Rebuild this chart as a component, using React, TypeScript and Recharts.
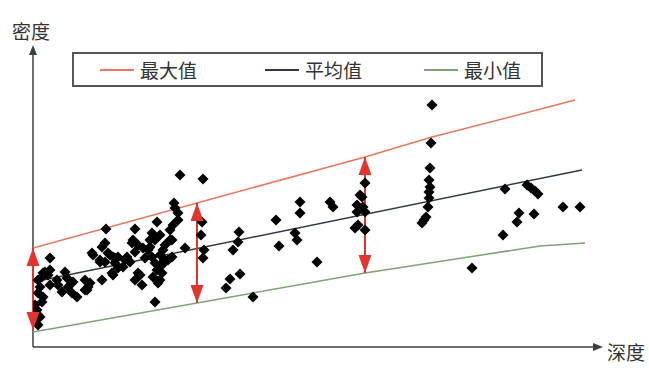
import React from 'react';
import { ComposedChart, Line, Scatter, XAxis, YAxis, ReferenceLine, ReferenceDot } from 'recharts';

// measured points: depth (x), density (y), arbitrary units
const samples: { x: number; y: number }[] = [
  { x: 5, y: 22 }, { x: 7, y: 30 }, { x: 4, y: 37 }, { x: 9, y: 45 }, { x: 10, y: 50 },
  { x: 5, y: 54 }, { x: 7, y: 60 }, { x: 17, y: 62 }, { x: 15, y: 72 }, { x: 17, y: 77 },
  { x: 10, y: 74 }, { x: 17, y: 89 }, { x: 12, y: 75 }, { x: 9, y: 70 }, { x: 5, y: 67 },
  { x: 5, y: 32 }, { x: 3, y: 27 }, { x: 2, y: 42 }, { x: 24, y: 67 }, { x: 25, y: 62 },
  { x: 29, y: 55 }, { x: 35, y: 60 }, { x: 40, y: 65 }, { x: 39, y: 54 }, { x: 44, y: 50 },
  { x: 32, y: 75 }, { x: 34, y: 69 }, { x: 52, y: 67 }, { x: 55, y: 60 }, { x: 52, y: 57 },
  { x: 59, y: 94 }, { x: 57, y: 64 }, { x: 60, y: 92 }, { x: 69, y: 67 }, { x: 72, y: 85 },
  { x: 75, y: 94 }, { x: 69, y: 100 }, { x: 72, y: 104 }, { x: 73, y: 118 }, { x: 67, y: 87 },
  { x: 77, y: 92 }, { x: 82, y: 89 }, { x: 80, y: 72 }, { x: 79, y: 74 }, { x: 82, y: 84 },
  { x: 85, y: 90 }, { x: 90, y: 80 }, { x: 95, y: 87 }, { x: 102, y: 95 }, { x: 99, y: 104 },
  { x: 105, y: 74 }, { x: 102, y: 67 }, { x: 94, y: 90 }, { x: 97, y: 85 }, { x: 100, y: 107 },
  { x: 105, y: 102 }, { x: 110, y: 99 }, { x: 102, y: 118 }, { x: 107, y: 72 }, { x: 109, y: 62 },
  { x: 117, y: 100 }, { x: 119, y: 90 }, { x: 122, y: 84 }, { x: 124, y: 77 }, { x: 120, y: 70 },
  { x: 129, y: 74 }, { x: 125, y: 64 }, { x: 127, y: 92 }, { x: 132, y: 87 }, { x: 119, y: 114 },
  { x: 122, y: 107 }, { x: 124, y: 125 }, { x: 137, y: 117 }, { x: 137, y: 107 }, { x: 122, y: 45 },
  { x: 141, y: 144 }, { x: 142, y: 139 }, { x: 145, y: 134 }, { x: 145, y: 127 }, { x: 140, y: 122 },
  { x: 127, y: 112 }, { x: 132, y: 102 }, { x: 147, y: 172 }, { x: 170, y: 168 }, { x: 152, y: 99 },
  { x: 115, y: 97 }, { x: 127, y: 82 }, { x: 130, y: 97 }, { x: 117, y: 107 }, { x: 112, y: 89 },
  { x: 139, y: 107 }, { x: 139, y: 90 }, { x: 135, y: 87 }, { x: 129, y: 82 }, { x: 127, y: 67 },
  { x: 80, y: 90 }, { x: 92, y: 87 }, { x: 85, y: 79 }, { x: 67, y: 85 }, { x: 54, y: 57 },
  { x: 169, y: 125 }, { x: 168, y: 112 }, { x: 171, y: 97 }, { x: 170, y: 89 },
  { x: 206, y: 115 }, { x: 205, y: 105 }, { x: 200, y: 97 }, { x: 207, y: 73 }, { x: 197, y: 68 },
  { x: 193, y: 59 }, { x: 220, y: 50 }, { x: 243, y: 127 }, { x: 246, y: 101 }, { x: 267, y: 145 },
  { x: 267, y: 134 }, { x: 262, y: 114 }, { x: 264, y: 107 }, { x: 297, y: 145 }, { x: 300, y: 140 },
  { x: 284, y: 85 }, { x: 324, y: 142 }, { x: 329, y: 150 }, { x: 324, y: 135 }, { x: 325, y: 122 },
  { x: 332, y: 117 }, { x: 322, y: 119 }, { x: 330, y: 140 }, { x: 332, y: 164 }, { x: 327, y: 152 },
  { x: 332, y: 135 }, { x: 399, y: 242 }, { x: 398, y: 204 }, { x: 397, y: 179 }, { x: 396, y: 167 },
  { x: 397, y: 160 }, { x: 396, y: 155 }, { x: 396, y: 149 }, { x: 395, y: 140 }, { x: 393, y: 130 },
  { x: 389, y: 124 }, { x: 391, y: 127 }, { x: 472, y: 158 }, { x: 494, y: 162 }, { x: 498, y: 159 },
  { x: 502, y: 156 }, { x: 505, y: 153 }, { x: 530, y: 140 }, { x: 547, y: 140 }, { x: 486, y: 134 },
  { x: 484, y: 125 }, { x: 501, y: 133 }, { x: 470, y: 112 }, { x: 439, y: 79 },
];

const maxLine = [
  { x: 0, y: 99 }, { x: 164, y: 144 }, { x: 332, y: 190 }, { x: 399, y: 210 }, { x: 504, y: 237 }, { x: 542, y: 247 },
];
const meanLine = [{ x: 0, y: 65 }, { x: 549, y: 177 }];
const minLine = [
  { x: 0, y: 15 }, { x: 164, y: 44 }, { x: 332, y: 74 }, { x: 507, y: 101 }, { x: 552, y: 104 },
];

// spread markers: depth, top, bottom
const spreads = [
  { x: 0, top: 99, bottom: 17 },
  { x: 164, top: 144, bottom: 44 },
  { x: 332, top: 190, bottom: 74 },
];

const legendItems = [
  { name: '最大值', color: '#e8775e', left: 26 },
  { name: '平均值', color: '#2c3a48', left: 191 },
  { name: '最小值', color: '#7ea377', left: 350 },
];

const X_MAX = 570;
const Y_MAX = 302;
const ARROW_RED = '#e2332c';
const AXIS = '#3a3f44';
const FONT = '"Noto Sans CJK SC", sans-serif';

const Diamond = (props: any) => {
  const { cx, cy } = props;
  if (cx == null || cy == null) return null;
  const r = 5.5;
  return <path d={`M${cx},${cy - r}L${cx + r},${cy}L${cx},${cy + r}L${cx - r},${cy}Z`} fill="#000" />;
};

const Head = (dir: 'up' | 'down' | 'right', color: string, len: number, half: number) => (props: any) => {
  const { cx, cy } = props;
  if (cx == null || cy == null) return null;
  let d = '';
  if (dir === 'up') d = `M${cx},${cy}L${cx - half},${cy + len}L${cx + half},${cy + len}Z`;
  if (dir === 'down') d = `M${cx},${cy}L${cx - half},${cy - len}L${cx + half},${cy - len}Z`;
  if (dir === 'right') d = `M${cx},${cy}L${cx - len},${cy - half}L${cx - len},${cy + half}Z`;
  return <path d={d} fill={color} />;
};

export default function App() {
  return (
    <div style={{ position: 'absolute', left: 0, top: 0, width: 649, height: 368, background: '#fff', fontFamily: FONT }}>
      <ComposedChart width={649} height={368} margin={{ top: 45, right: 46, bottom: 21, left: 33 }}>
        <XAxis type="number" dataKey="x" domain={[0, X_MAX]} allowDataOverflow hide />
        <YAxis type="number" dataKey="y" domain={[0, Y_MAX]} allowDataOverflow hide />
        {/* axes with arrow tips */}
        <ReferenceLine ifOverflow="visible" stroke={AXIS} strokeWidth={1.5}
          segment={[{ x: 0, y: 0 }, { x: X_MAX - 4, y: 0 }]} />
        <ReferenceLine ifOverflow="visible" stroke={AXIS} strokeWidth={1.5}
          segment={[{ x: 0, y: 0 }, { x: 0, y: Y_MAX - 4 }]} />
        <ReferenceDot x={X_MAX} y={0} ifOverflow="visible" shape={Head('right', AXIS, 10, 4)} />
        <ReferenceDot x={0} y={Y_MAX} ifOverflow="visible" shape={Head('up', AXIS, 10, 4)} />
        <Line data={maxLine} dataKey="y" stroke="#e8775e" strokeWidth={1.5} dot={false} isAnimationActive={false} />
        <Line data={meanLine} dataKey="y" stroke="#2c3a48" strokeWidth={1.5} dot={false} isAnimationActive={false} />
        <Line data={minLine} dataKey="y" stroke="#7ea377" strokeWidth={1.5} dot={false} isAnimationActive={false} />
        <Scatter data={samples} dataKey="y" shape={<Diamond />} isAnimationActive={false} />
        {spreads.map(s => (
          <ReferenceLine key={'l' + s.x} ifOverflow="visible" stroke={ARROW_RED} strokeWidth={2}
            segment={[{ x: s.x, y: s.top }, { x: s.x, y: s.bottom }]} />
        ))}
        {spreads.map(s => (
          <ReferenceDot key={'t' + s.x} x={s.x} y={s.top} ifOverflow="visible" shape={Head('up', ARROW_RED, 18, 6.5)} />
        ))}
        {spreads.map(s => (
          <ReferenceDot key={'b' + s.x} x={s.x} y={s.bottom} ifOverflow="visible" shape={Head('down', ARROW_RED, 18, 6.5)} />
        ))}
      </ComposedChart>

      <div style={{ position: 'absolute', left: 12, top: 19, fontSize: 19, color: '#333', lineHeight: '24px' }}>密度</div>
      <div style={{ position: 'absolute', left: 607, top: 340, fontSize: 19, color: '#333', lineHeight: '24px' }}>深度</div>

      <div style={{ position: 'absolute', left: 72, top: 52, width: 467, height: 31, border: '2px solid #555', background: '#fff' }}>
        {legendItems.map(it => (
          <div key={it.name} style={{ position: 'absolute', left: it.left, top: 4, display: 'flex', alignItems: 'center', height: 24 }}>
            <div style={{ width: 34, height: 0, borderTop: `2px solid ${it.color}`, marginRight: 6 }} />
            <span style={{ fontSize: 19, color: '#333', lineHeight: '24px' }}>{it.name}</span>
          </div>
        ))}
      </div>
    </div>
  );
}
